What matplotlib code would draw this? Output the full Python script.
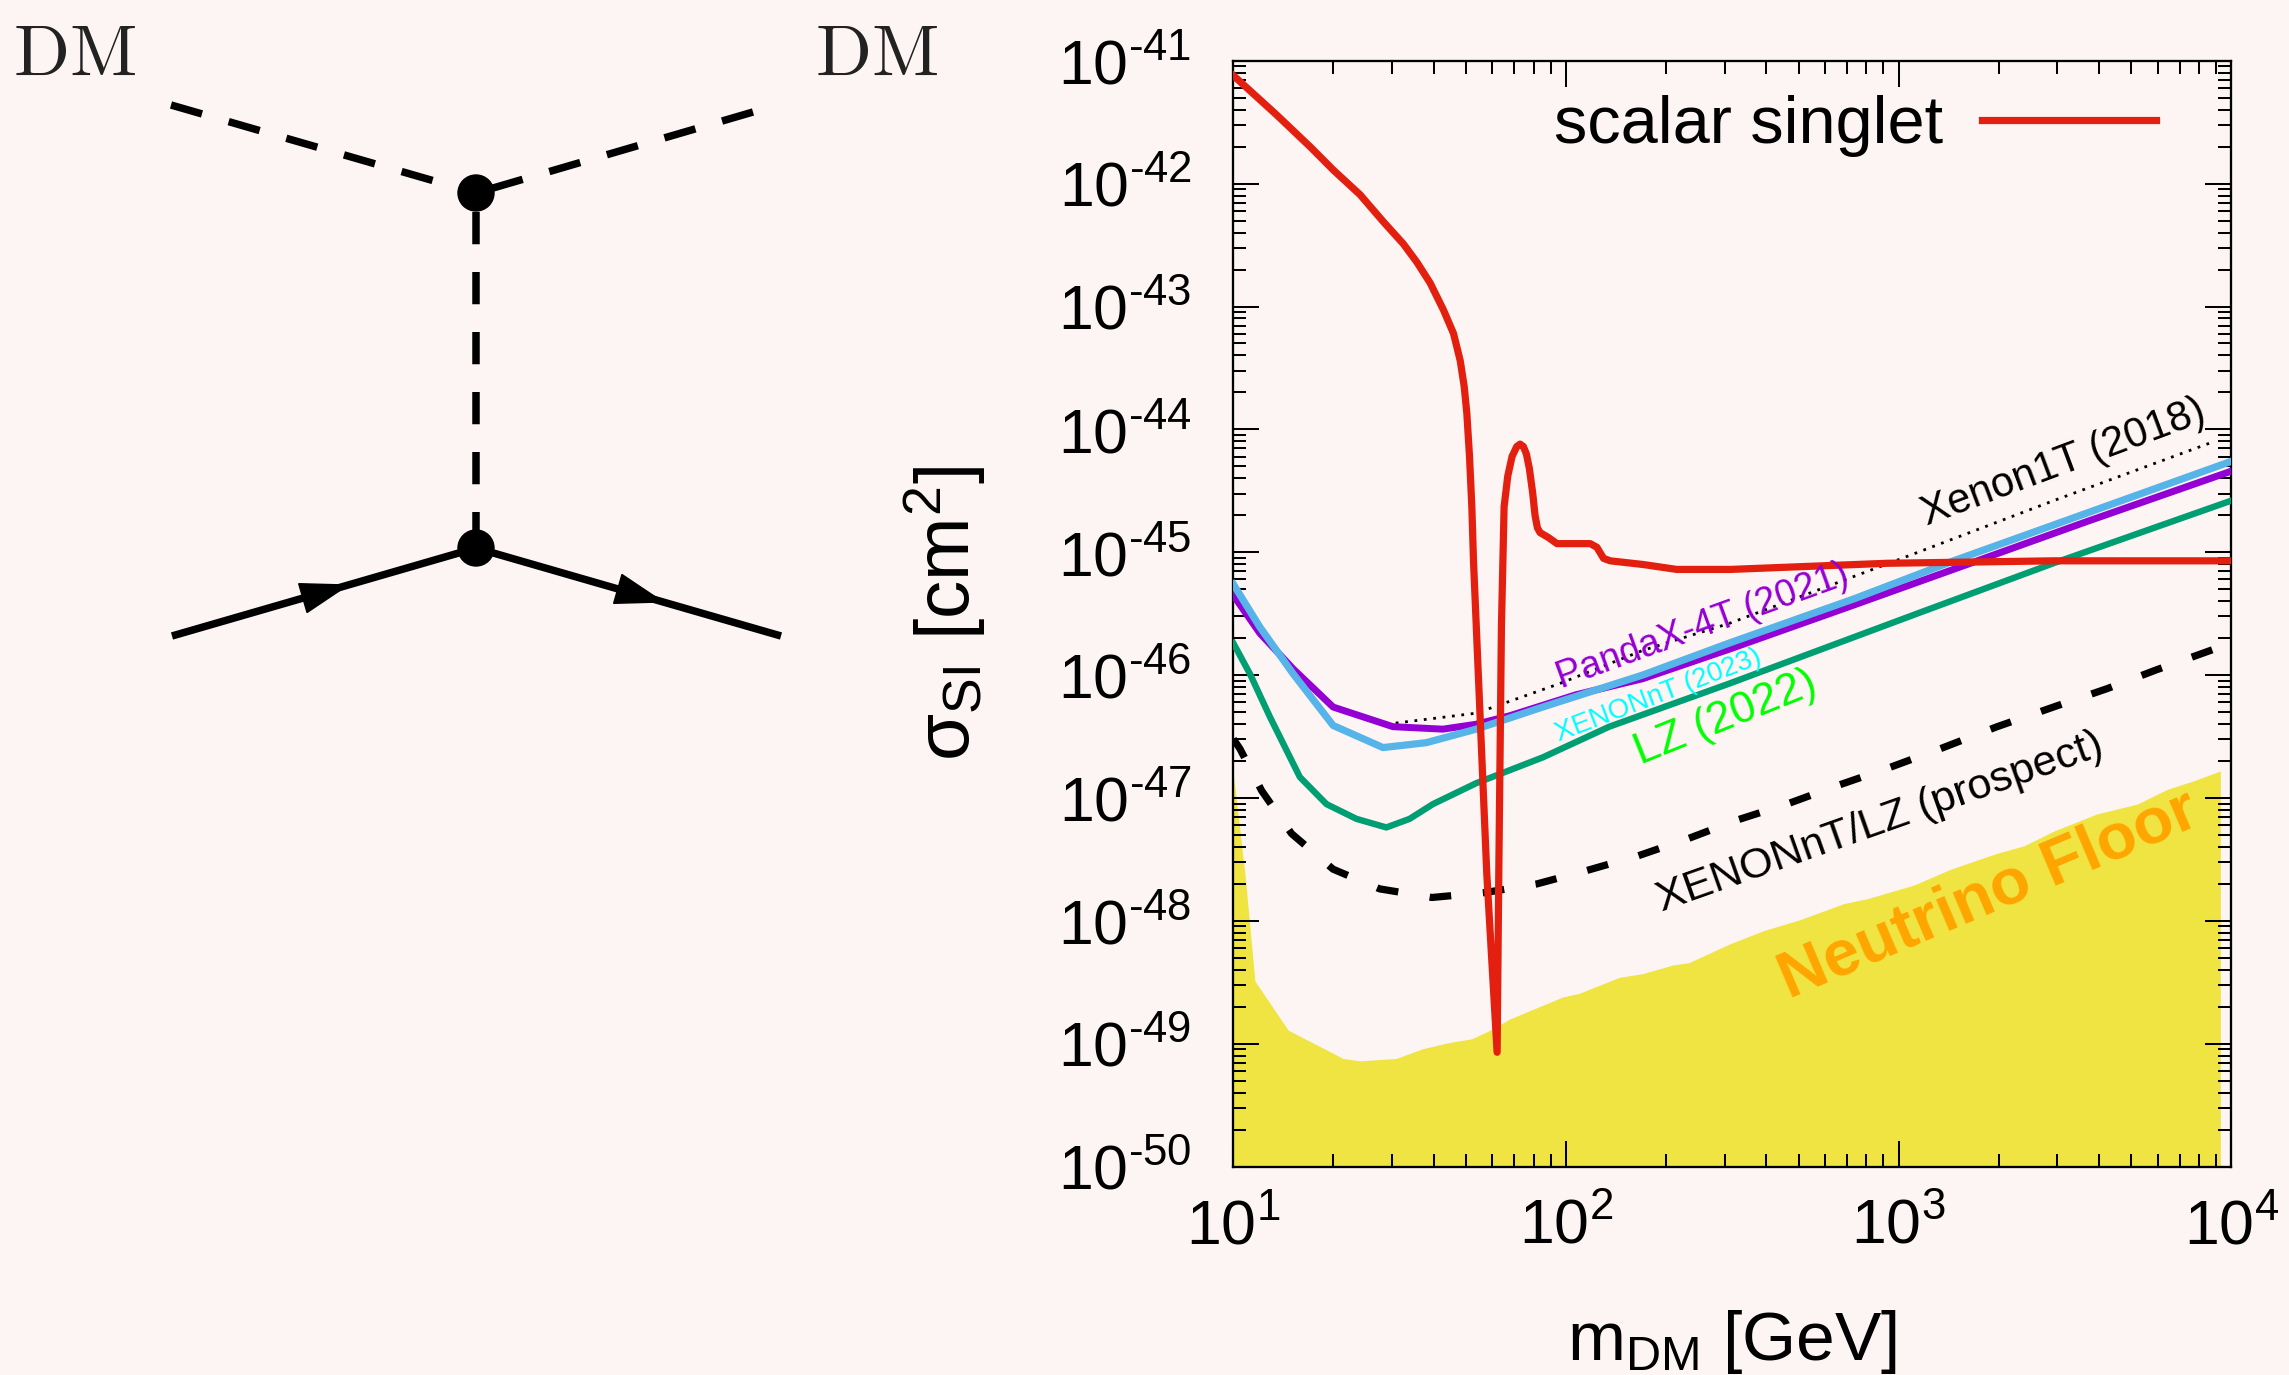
import numpy as np
import matplotlib
matplotlib.use('Agg')
import matplotlib.pyplot as plt
from matplotlib.patches import Circle, Polygon
from matplotlib.lines import Line2D
from matplotlib.transforms import Affine2D
from matplotlib.ticker import LogLocator, NullFormatter, FuncFormatter

plt.rcParams['font.family'] = ['Liberation Sans', 'DejaVu Sans']
plt.rcParams['mathtext.fontset'] = 'custom'
plt.rcParams['mathtext.rm'] = 'Liberation Sans'
plt.rcParams['mathtext.it'] = 'Liberation Sans:italic'
plt.rcParams['mathtext.bf'] = 'Liberation Sans:bold'

BG = '#FDF5F3'
RED = '#E3200F'
PURPLE = '#9400D3'
SKY = '#56B4E9'
GREEN = '#009E73'
YELLOW = '#F0E442'
ORANGE = '#FFA500'

# ---- data (log10 m [GeV], log10 sigma [cm^2]) ----
singlet_logm = [1.00, 1.13, 1.231, 1.301, 1.381, 1.451, 1.511, 1.552, 1.592, 1.632, 1.662, 1.682,
                1.694, 1.702, 1.710, 1.717, 1.722,
                1.762, 1.793, 1.798, 1.806, 1.814, 1.825, 1.838, 1.852, 1.862, 1.872, 1.881, 1.890,
                1.900, 1.907, 1.914, 1.922, 1.947, 1.973, 2.073, 2.093, 2.113, 2.133, 2.232,
                2.333, 2.494, 2.965, 3.465, 4.00]
singlet_logs = [-41.12, -41.44, -41.70, -41.89, -42.09, -42.31, -42.49, -42.64, -42.81, -43.03, -43.22,
                -43.44, -43.65, -43.87, -44.22, -44.63, -45.07,
                -47.62, -49.07, -47.62, -45.60, -44.63, -44.38, -44.22, -44.14, -44.12, -44.14, -44.20,
                -44.32, -44.52, -44.70, -44.80, -44.84, -44.88, -44.93, -44.93, -44.96, -45.05, -45.07,
                -45.10, -45.14, -45.14, -45.09, -45.07, -45.07]

pandax_logm = [1.00, 1.08, 1.18, 1.30, 1.48, 1.63, 1.73, 1.832, 2.03, 2.23, 2.49, 2.865, 3.226, 3.566, 4.00]
pandax_logs = [-45.35, -45.66, -45.95, -46.26, -46.42, -46.44, -46.40, -46.33, -46.16, -46.03, -45.79,
               -45.43, -45.08, -44.75, -44.34]

xenonnt_logm = [1.00, 1.08, 1.18, 1.30, 1.45, 1.58, 1.73, 1.93, 2.23, 2.49, 2.865, 3.165, 4.00]
xenonnt_logs = [-45.26, -45.61, -45.99, -46.41, -46.59, -46.55, -46.44, -46.26, -46.00, -45.74,
                -45.38, -45.07, -44.26]

lz_logm = [1.00, 1.05, 1.11, 1.20, 1.28, 1.37, 1.46, 1.53, 1.60, 1.73, 1.93, 2.13, 2.49, 3.065, 3.465, 4.00]
lz_logs = [-45.74, -45.99, -46.34, -46.83, -47.05, -47.17, -47.24, -47.17, -47.05, -46.88, -46.67,
           -46.42, -46.07, -45.49, -45.09, -44.58]

xenon1t_logm = [1.46, 1.73, 1.98, 2.23, 2.49, 3.00, 3.466, 3.947]
xenon1t_logs = [-46.40, -46.31, -46.07, -45.80, -45.58, -45.06, -44.58, -44.10]

prospect_logm = [1.00, 1.02, 1.085, 1.175, 1.30, 1.44, 1.597, 1.757, 1.912, 2.063, 2.218, 2.368,
                 2.514, 2.664, 2.815, 2.965, 3.115, 3.296, 3.476, 3.627, 3.772, 3.947]
prospect_logs = [-46.52, -46.60, -46.94, -47.29, -47.58, -47.74, -47.81, -47.77, -47.70, -47.59, -47.47,
                 -47.33, -47.18, -47.05, -46.90, -46.76, -46.61, -46.42, -46.25, -46.11, -45.96, -45.79]

floor_logm = [1.00, 1.035, 1.065, 1.165, 1.33, 1.38, 1.49, 1.57, 1.65, 1.717, 1.78, 1.83, 1.99, 2.04,
              2.16, 2.23, 2.32, 2.37, 2.49, 2.594, 2.704, 2.835, 2.905, 3.045, 3.156, 3.296, 3.376,
              3.466, 3.596, 3.717, 3.807, 3.887, 3.967]
floor_logs = [-46.80, -47.62, -48.49, -48.89, -49.12, -49.14, -49.12, -49.04, -48.99, -48.96, -48.88,
              -48.80, -48.62, -48.59, -48.46, -48.43, -48.36, -48.34, -48.19, -48.08, -47.99, -47.86,
              -47.82, -47.71, -47.58, -47.45, -47.39, -47.27, -47.13, -47.05, -46.93, -46.86, -46.78]


def pw(a):
    return 10.0 ** np.asarray(a)


def pow_label(v, pos):
    e = int(round(np.log10(v)))
    s = str(e).replace('-', r'\text{-}')
    return r'$\mathregular{10^{%s}}$' % s


W, H, DPI = 2289, 1375, 100
fig = plt.figure(figsize=(W / DPI, H / DPI), dpi=DPI)
fig.patch.set_facecolor(BG)

# ---- Feynman diagram, drawn straight on the figure in pixel coords (y down) ----
px = Affine2D().scale(1.0 / DPI, -1.0 / DPI).translate(0, H / DPI) + fig.dpi_scale_trans

v_top = (476, 193)
v_bot = (476, 548)
dash = dict(color='black', lw=5.4, ls=(0, (4.3, 3.7)), dash_capstyle='butt', transform=px)
fig.add_artist(Line2D([171, v_top[0]], [105, v_top[1]], **dash))
fig.add_artist(Line2D([753, v_top[0]], [112, v_top[1]], **dash))
fig.add_artist(Line2D([v_top[0], v_bot[0]], [v_top[1] + 19, v_bot[1]], **dash))
fig.add_artist(Line2D([172, v_bot[0], 781], [636, v_bot[1], 636], color='black', lw=5.4,
                      solid_capstyle='butt', transform=px))
for c in (v_top, v_bot):
    fig.add_artist(Circle(c, 18, color='black', transform=px, zorder=3))


def fermion_arrow(p0, p1, frac, length=47, half=15):
    p0 = np.array(p0, float)
    p1 = np.array(p1, float)
    u = (p1 - p0) / np.hypot(*(p1 - p0))
    n = np.array([-u[1], u[0]])
    tip = p0 + frac * (p1 - p0)
    back = tip - length * u
    fig.add_artist(Polygon([tip, back + half * n, back - half * n], closed=True,
                           color='black', transform=px, zorder=3))


fermion_arrow((172, 636), v_bot, 0.579)
fermion_arrow(v_bot, (781, 636), 0.613)

for xdm in (75, 877):
    fig.text(xdm, 76, r'$\mathrm{DM}$', math_fontfamily='cm', fontsize=53, ha='center',
             va='baseline', color='#222222', transform=px)

# ---- direct detection plot ----
ax = fig.add_axes([0.5388, 0.1516, 0.4360, 0.8042])
ax.set_facecolor(BG)
ax.set_xscale('log')
ax.set_yscale('log')
ax.set_xlim(10, 1e4)
ax.set_ylim(1e-50, 1e-41)

ax.fill_between(pw(floor_logm), pw(floor_logs), 1e-50, color=YELLOW, lw=0, zorder=1)
ax.plot(pw(prospect_logm), pw(prospect_logs), color='black', lw=5.2, ls=(0, (3.0, 4.4)), zorder=3)
ax.plot(pw(xenon1t_logm), pw(xenon1t_logs), color='black', lw=2.0, ls=(0, (1.0, 2.4)), zorder=3)
ax.plot(pw(lz_logm), pw(lz_logs), color=GREEN, lw=4.6, zorder=4)
ax.plot(pw(pandax_logm), pw(pandax_logs), color=PURPLE, lw=5.0, zorder=4)
ax.plot(pw(xenonnt_logm), pw(xenonnt_logs), color=SKY, lw=5.2, zorder=4)
singlet, = ax.plot(pw(singlet_logm), pw(singlet_logs), color=RED, lw=5.2, zorder=5,
                   label='scalar singlet')

lbl = dict(ha='center', va='center', rotation_mode='anchor', zorder=6)
ax.text(10**3.496, 10**-44.27, 'Xenon1T (2018)', fontsize=30, rotation=20.5, color='black', **lbl)
ax.text(10**2.41, 10**-45.60, 'PandaX-4T (2021)', fontsize=27, rotation=20, color=PURPLE, **lbl)
ax.text(10**2.277, 10**-46.17, 'XENONnT (2023)', fontsize=20, rotation=21, color='#00FFFF', **lbl)
ax.text(10**2.479, 10**-46.35, 'LZ (2022)', fontsize=32, rotation=22, color='#00FF00', **lbl)
ax.text(10**2.945, 10**-47.20, 'XENONnT/LZ (prospect)', fontsize=31, rotation=19.5, color='black', **lbl)
ax.text(10**3.27, 10**-47.79, 'Neutrino Floor', fontsize=47, fontweight='bold', rotation=23,
        color=ORANGE, **lbl)

ax.legend(handles=[singlet], loc='upper right', bbox_to_anchor=(0.925, 0.969), frameon=False,
          markerfirst=False, fontsize=48, handlelength=2.62, handletextpad=0.58,
          borderpad=0, borderaxespad=0)

for axis in (ax.xaxis, ax.yaxis):
    axis.set_major_locator(LogLocator(base=10, numticks=20))
    axis.set_minor_locator(LogLocator(base=10, subs=np.arange(2, 10), numticks=200))
    axis.set_major_formatter(FuncFormatter(pow_label))
    axis.set_minor_formatter(NullFormatter())
ax.tick_params(which='both', direction='in', top=True, right=True, width=1.45, colors='black')
ax.tick_params(which='major', length=18.7)
ax.tick_params(which='minor', length=9.7)
ax.tick_params(axis='y', which='major', labelsize=45, pad=30)
ax.tick_params(axis='x', which='major', labelsize=45, pad=22)
for s in ax.spines.values():
    s.set_linewidth(1.65)

ax.set_xlabel(r'm$_{\rm DM}$ [GeV]', fontsize=50)
ax.set_ylabel(r'σ$_{\rm SI}$ [cm$^2$]', fontsize=55)
ax.xaxis.set_label_coords(0.5, -0.128)
ax.yaxis.set_label_coords(-0.246, 0.5)

fig.savefig('out.png', dpi=DPI, facecolor=fig.get_facecolor())
